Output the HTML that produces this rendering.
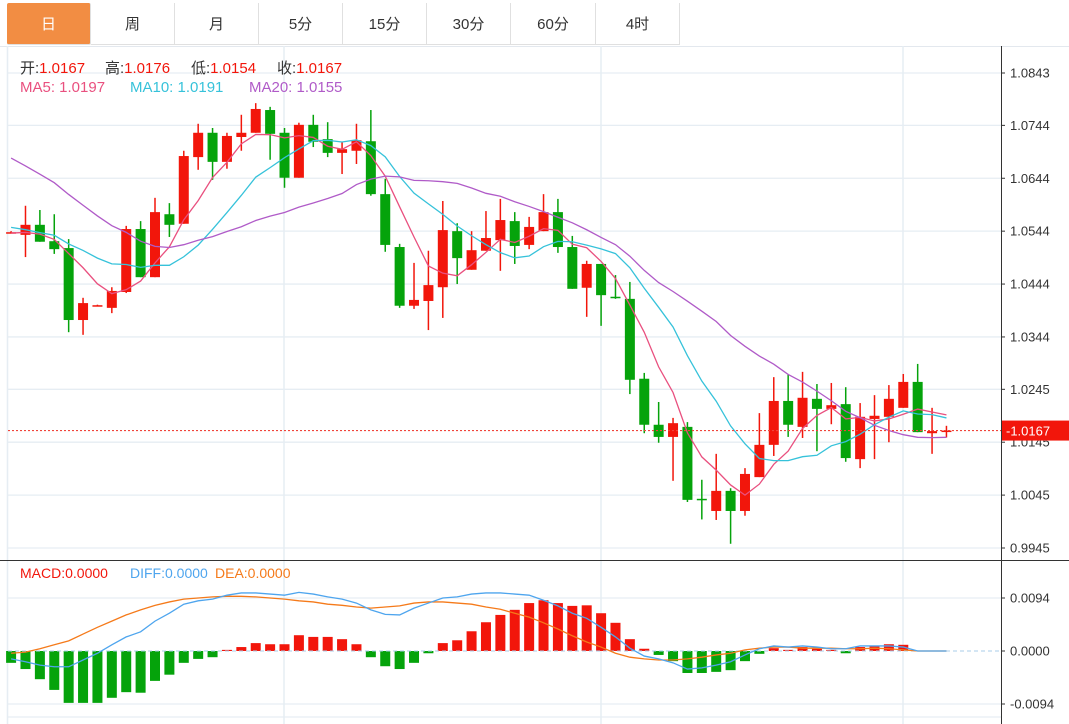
<!DOCTYPE html>
<html><head><meta charset="utf-8">
<style>
html,body{margin:0;padding:0;background:#fff;}
body{width:1069px;height:724px;overflow:hidden;position:relative;font-family:"Liberation Sans","Noto Sans CJK SC",sans-serif;}
#tabs{position:absolute;left:0;top:3px;height:43px;width:1069px;}
.tab{position:absolute;top:0;height:42px;line-height:44px;text-align:center;font-size:15px;color:#333;border-right:1px solid #e0e0e0;border-bottom:1px solid #e0e0e0;box-sizing:border-box;}
.tab.on{background:#f28d43;color:#fff;border-radius:2px;}
svg{position:absolute;left:0;top:0;}
.lbl{position:absolute;font-size:15px;white-space:nowrap;}
</style></head><body>
<div id="tabs">
<div class="tab on" style="left:7px;width:84px">日</div>
<div class="tab" style="left:91px;width:84px">周</div>
<div class="tab" style="left:175px;width:84px">月</div>
<div class="tab" style="left:259px;width:84px">5分</div>
<div class="tab" style="left:343px;width:84px">15分</div>
<div class="tab" style="left:427px;width:84px">30分</div>
<div class="tab" style="left:511px;width:85px">60分</div>
<div class="tab" style="left:596px;width:84px">4时</div>
</div>
<svg id="chart" width="1069" height="724"></svg>
<script>
const opens=[1.0541,1.0537,1.0556,1.0525,1.0512,1.0376,1.0403,1.0399,1.0429,1.0548,1.0457,1.0576,1.0558,1.0684,1.0730,1.0675,1.0722,1.0730,1.0773,1.0730,1.0645,1.0745,1.0718,1.0692,1.0696,1.0714,1.0614,1.0514,1.0403,1.0412,1.0438,1.0544,1.0471,1.0507,1.0527,1.0563,1.0518,1.0544,1.0580,1.0514,1.0437,1.0482,1.0420,1.0416,1.0265,1.0178,1.0155,1.0174,1.0038,1.0015,1.0053,1.0015,1.0079,1.0140,1.0223,1.0174,1.0227,1.0208,1.0217,1.0113,1.0189,1.0193,1.0210,1.0259,1.0162,1.0167];
const highs=[1.0544,1.0592,1.0584,1.0576,1.0529,1.0418,1.0405,1.0438,1.0554,1.0563,1.0607,1.0597,1.0696,1.0747,1.0739,1.0730,1.0764,1.0786,1.0779,1.0739,1.0749,1.0764,1.0750,1.0713,1.0747,1.0773,1.0643,1.0520,1.0484,1.0507,1.0601,1.0559,1.0544,1.0582,1.0605,1.0580,1.0571,1.0614,1.0605,1.0535,1.0488,1.0482,1.0461,1.0448,1.0276,1.0221,1.0191,1.0183,1.0074,1.0123,1.0058,1.0096,1.0200,1.0268,1.0274,1.0278,1.0255,1.0257,1.0249,1.0219,1.0234,1.0253,1.0274,1.0293,1.0210,1.0176];
const lows=[1.0540,1.0495,1.0524,1.0501,1.0353,1.0348,1.0402,1.0389,1.0427,1.0457,1.0457,1.0533,1.0558,1.0660,1.0641,1.0662,1.0696,1.0730,1.0679,1.0626,1.0645,1.0703,1.0684,1.0652,1.0671,1.0611,1.0505,1.0399,1.0397,1.0357,1.0380,1.0444,1.0471,1.0507,1.0469,1.0482,1.0510,1.0544,1.0503,1.0435,1.0382,1.0365,1.0416,1.0236,1.0162,1.0144,1.0072,1.0032,0.9999,0.9998,0.9953,1.0006,1.0079,1.0119,1.0155,1.0153,1.0128,1.0179,1.0108,1.0096,1.0113,1.0145,1.0210,1.0164,1.0123,1.0154];
const closes=[1.0542,1.0556,1.0524,1.0510,1.0376,1.0408,1.0404,1.0431,1.0548,1.0457,1.0580,1.0556,1.0686,1.0730,1.0675,1.0724,1.0730,1.0775,1.0728,1.0645,1.0745,1.0713,1.0692,1.0699,1.0716,1.0614,1.0518,1.0403,1.0414,1.0442,1.0546,1.0493,1.0508,1.0531,1.0565,1.0516,1.0552,1.0580,1.0514,1.0435,1.0482,1.0423,1.0418,1.0263,1.0178,1.0155,1.0181,1.0036,1.0036,1.0053,1.0015,1.0085,1.0140,1.0223,1.0178,1.0229,1.0208,1.0215,1.0115,1.0193,1.0195,1.0227,1.0259,1.0164,1.0166,1.0167];
// closes before the first visible candle (needed for moving averages)
const priorCloses=[1.0850,1.0840,1.0830,1.0820,1.0815,1.0810,1.0800,1.0800,1.0790,1.0775,1.0600,1.0580,1.0560,1.0540,1.0530,1.0550,1.0540,1.0560,1.0510];
// MACD values in units of 0.0001
const macdHist=[-21,-32,-50,-69,-92,-92,-92,-83,-73,-74,-53,-42,-21,-14,-11,2,7,14,12,12,28,25,25,21,12,-11,-27,-32,-21,-4,14,19,35,51,64,73,85,90,85,80,81,67,50,21,4,-7,-18,-39,-39,-37,-34,-18,-5,5,2,7,4,2,-4,7,9,12,11,0,0,0];
const diffVals=[-14,-19,-25,-28,-28,-16,-4,11,25,34,53,67,83,89,92,99,103,103,101,99,104,101,96,92,85,73,65,64,76,85,94,96,101,103,103,101,99,90,80,67,58,42,25,5,-9,-14,-21,-32,-30,-25,-19,-7,4,9,7,9,7,4,4,9,9,9,7,0,0,0];
const deaVals=[-4,-2,4,11,18,30,42,53,64,73,81,87,92,94,96,97,97,96,94,92,89,87,83,81,78,76,78,80,85,87,87,85,83,78,74,67,60,50,39,27,16,7,-4,-11,-14,-16,-16,-14,-11,-7,-4,2,5,7,7,5,5,5,4,4,5,4,2,0,0,0];
const priceTicks=["1.0843","1.0744","1.0644","1.0544","1.0444","1.0344","1.0245","1.0145","1.0045","0.9945"];
const macdTicks=["0.0094","0.0000","-0.0094"];

const NS="http://www.w3.org/2000/svg";
const svg=document.getElementById('chart');
function mk(tag,attrs,parent){const e=document.createElementNS(NS,tag);for(const k in attrs)e.setAttribute(k,attrs[k]);(parent||svg).appendChild(e);return e;}
const xOf=i=>11.1+14.39*i;
const yP=p=>73+(1.0843-p)*475/0.0898;
const yM=v=>651-v*1e-4*53/0.0094;
const RED="#f2160b",GREEN="#05a30b";

const grid=mk('g',{});


mk('line',{x1:0,y1:46.5,x2:1069,y2:46.5,stroke:'#e3e8ee'},grid);
priceTicks.forEach(t=>{const y=yP(parseFloat(t));mk('line',{x1:8,y1:y,x2:1001,y2:y,stroke:'#e6edf3','stroke-width':1.3},grid);});
[yM(94),yM(-94)].forEach(y=>mk('line',{x1:8,y1:y,x2:1001,y2:y,stroke:'#e6edf3','stroke-width':1.3},grid));
mk('line',{x1:8,y1:717,x2:1001,y2:717,stroke:'#e6edf3','stroke-width':1.3},grid);
[284,601,903].forEach(x=>mk('line',{x1:x,y1:46,x2:x,y2:724,stroke:'#e6edf3','stroke-width':1.5},grid));
mk('line',{x1:7.5,y1:46,x2:7.5,y2:724,stroke:'#e6edf3','stroke-width':1.5},grid);
mk('line',{x1:0,y1:560.5,x2:1069,y2:560.5,stroke:'#333','stroke-width':1},grid);
mk('line',{x1:1001.5,y1:46,x2:1001.5,y2:724,stroke:'#333','stroke-width':1},grid);

priceTicks.forEach(t=>{const y=yP(parseFloat(t));
 mk('line',{x1:1001,y1:y,x2:1005,y2:y,stroke:'#333'});
 const tx=mk('text',{x:1010,y:y+4.5,'font-size':13,fill:'#333'});tx.textContent=t;
 
 });
macdTicks.forEach(t=>{const y=yM(parseFloat(t)*1e4);
 mk('line',{x1:1001,y1:y,x2:1005,y2:y,stroke:'#333'});
 const tx=mk('text',{x:1010,y:y+4.5,'font-size':13,fill:'#333'});tx.textContent=t;
 
 });

const cg=mk('g',{});


closes.forEach((c,i)=>{
 const o=opens[i],x=xOf(i),col=c>=o?RED:GREEN;
 const g=mk('g',{},cg);
 
 
 mk('line',{x1:x,y1:yP(highs[i]),x2:x,y2:yP(lows[i]),stroke:col,'stroke-width':1.5},g);
 const top=yP(Math.max(o,c)),bot=yP(Math.min(o,c));
 mk('rect',{x:x-5,y:top,width:10,height:Math.max(1.5,bot-top),fill:col},g);
});

const all=priorCloses.concat(closes);
function ma(n){return closes.map((_,i)=>{const j=i+priorCloses.length;let s=0;for(let k=j-n+1;k<=j;k++)s+=all[k];return s/n;});}
[[5,'#e9507f','ma5-line'],[10,'#36c2da','ma10-line'],[20,'#b05bc8','ma20-line']].forEach(([n,col,name])=>{
 const pts=ma(n).map((v,i)=>xOf(i)+','+yP(v)).join(' ');
 const pl=mk('polyline',{points:pts,fill:'none',stroke:col,'stroke-width':1.3});
 
 
});

const last=closes[closes.length-1];
const cy=yP(last);
const cl=mk('line',{x1:8,y1:cy,x2:1001,y2:cy,stroke:'#f0443a','stroke-dasharray':'2,2','stroke-width':1.2});


const cb=mk('rect',{x:1002,y:cy-10,width:67,height:20,fill:'#f2160b'});


const ct=mk('text',{x:1006,y:cy+5,'font-size':13,fill:'#fff'});ct.textContent='-'+last.toFixed(4);

const hg=mk('g',{});


macdHist.forEach((v,i)=>{if(v===0)return;const x=xOf(i),y0=yM(0),y1=yM(v);
 const r=mk('rect',{x:x-5,y:Math.min(y0,y1),width:10,height:Math.abs(y1-y0),fill:v>0?RED:GREEN},hg);
 
 });
mk('line',{x1:8,y1:yM(0),x2:1001,y2:yM(0),stroke:'#a9cdea','stroke-dasharray':'4,3','stroke-width':1});
[[deaVals,'#f57a1a','dea-line'],[diffVals,'#4ea5ee','diff-line']].forEach(([arr,col,name])=>{
 const pl=mk('polyline',{points:arr.map((v,i)=>xOf(i)+','+yM(v)).join(' '),fill:'none',stroke:col,'stroke-width':1.3});
 
 
});
</script>
<div>
<span class="lbl" style="left:20px;top:57px;color:#333">开:<span style="color:#f2160b">1.0167</span></span>
<span class="lbl" style="left:105px;top:57px;color:#333">高:<span style="color:#f2160b">1.0176</span></span>
<span class="lbl" style="left:191px;top:57px;color:#333">低:<span style="color:#f2160b">1.0154</span></span>
<span class="lbl" style="left:277px;top:57px;color:#333">收:<span style="color:#f2160b">1.0167</span></span>
</div>
<div>
<span class="lbl" style="left:20px;top:79px;color:#e9507f">MA5: 1.0197</span>
<span class="lbl" style="left:130px;top:79px;color:#36c2da">MA10: 1.0191</span>
<span class="lbl" style="left:249px;top:79px;color:#b05bc8">MA20: 1.0155</span>
</div>
<div>
<span class="lbl" style="left:20px;top:565px;font-size:14px;color:#f2160b">MACD:0.0000</span>
<span class="lbl" style="left:130px;top:565px;font-size:14px;color:#4ea5ee">DIFF:0.0000</span>
<span class="lbl" style="left:215px;top:565px;font-size:14px;color:#f57a1a">DEA:0.0000</span>
</div>
</body></html>
